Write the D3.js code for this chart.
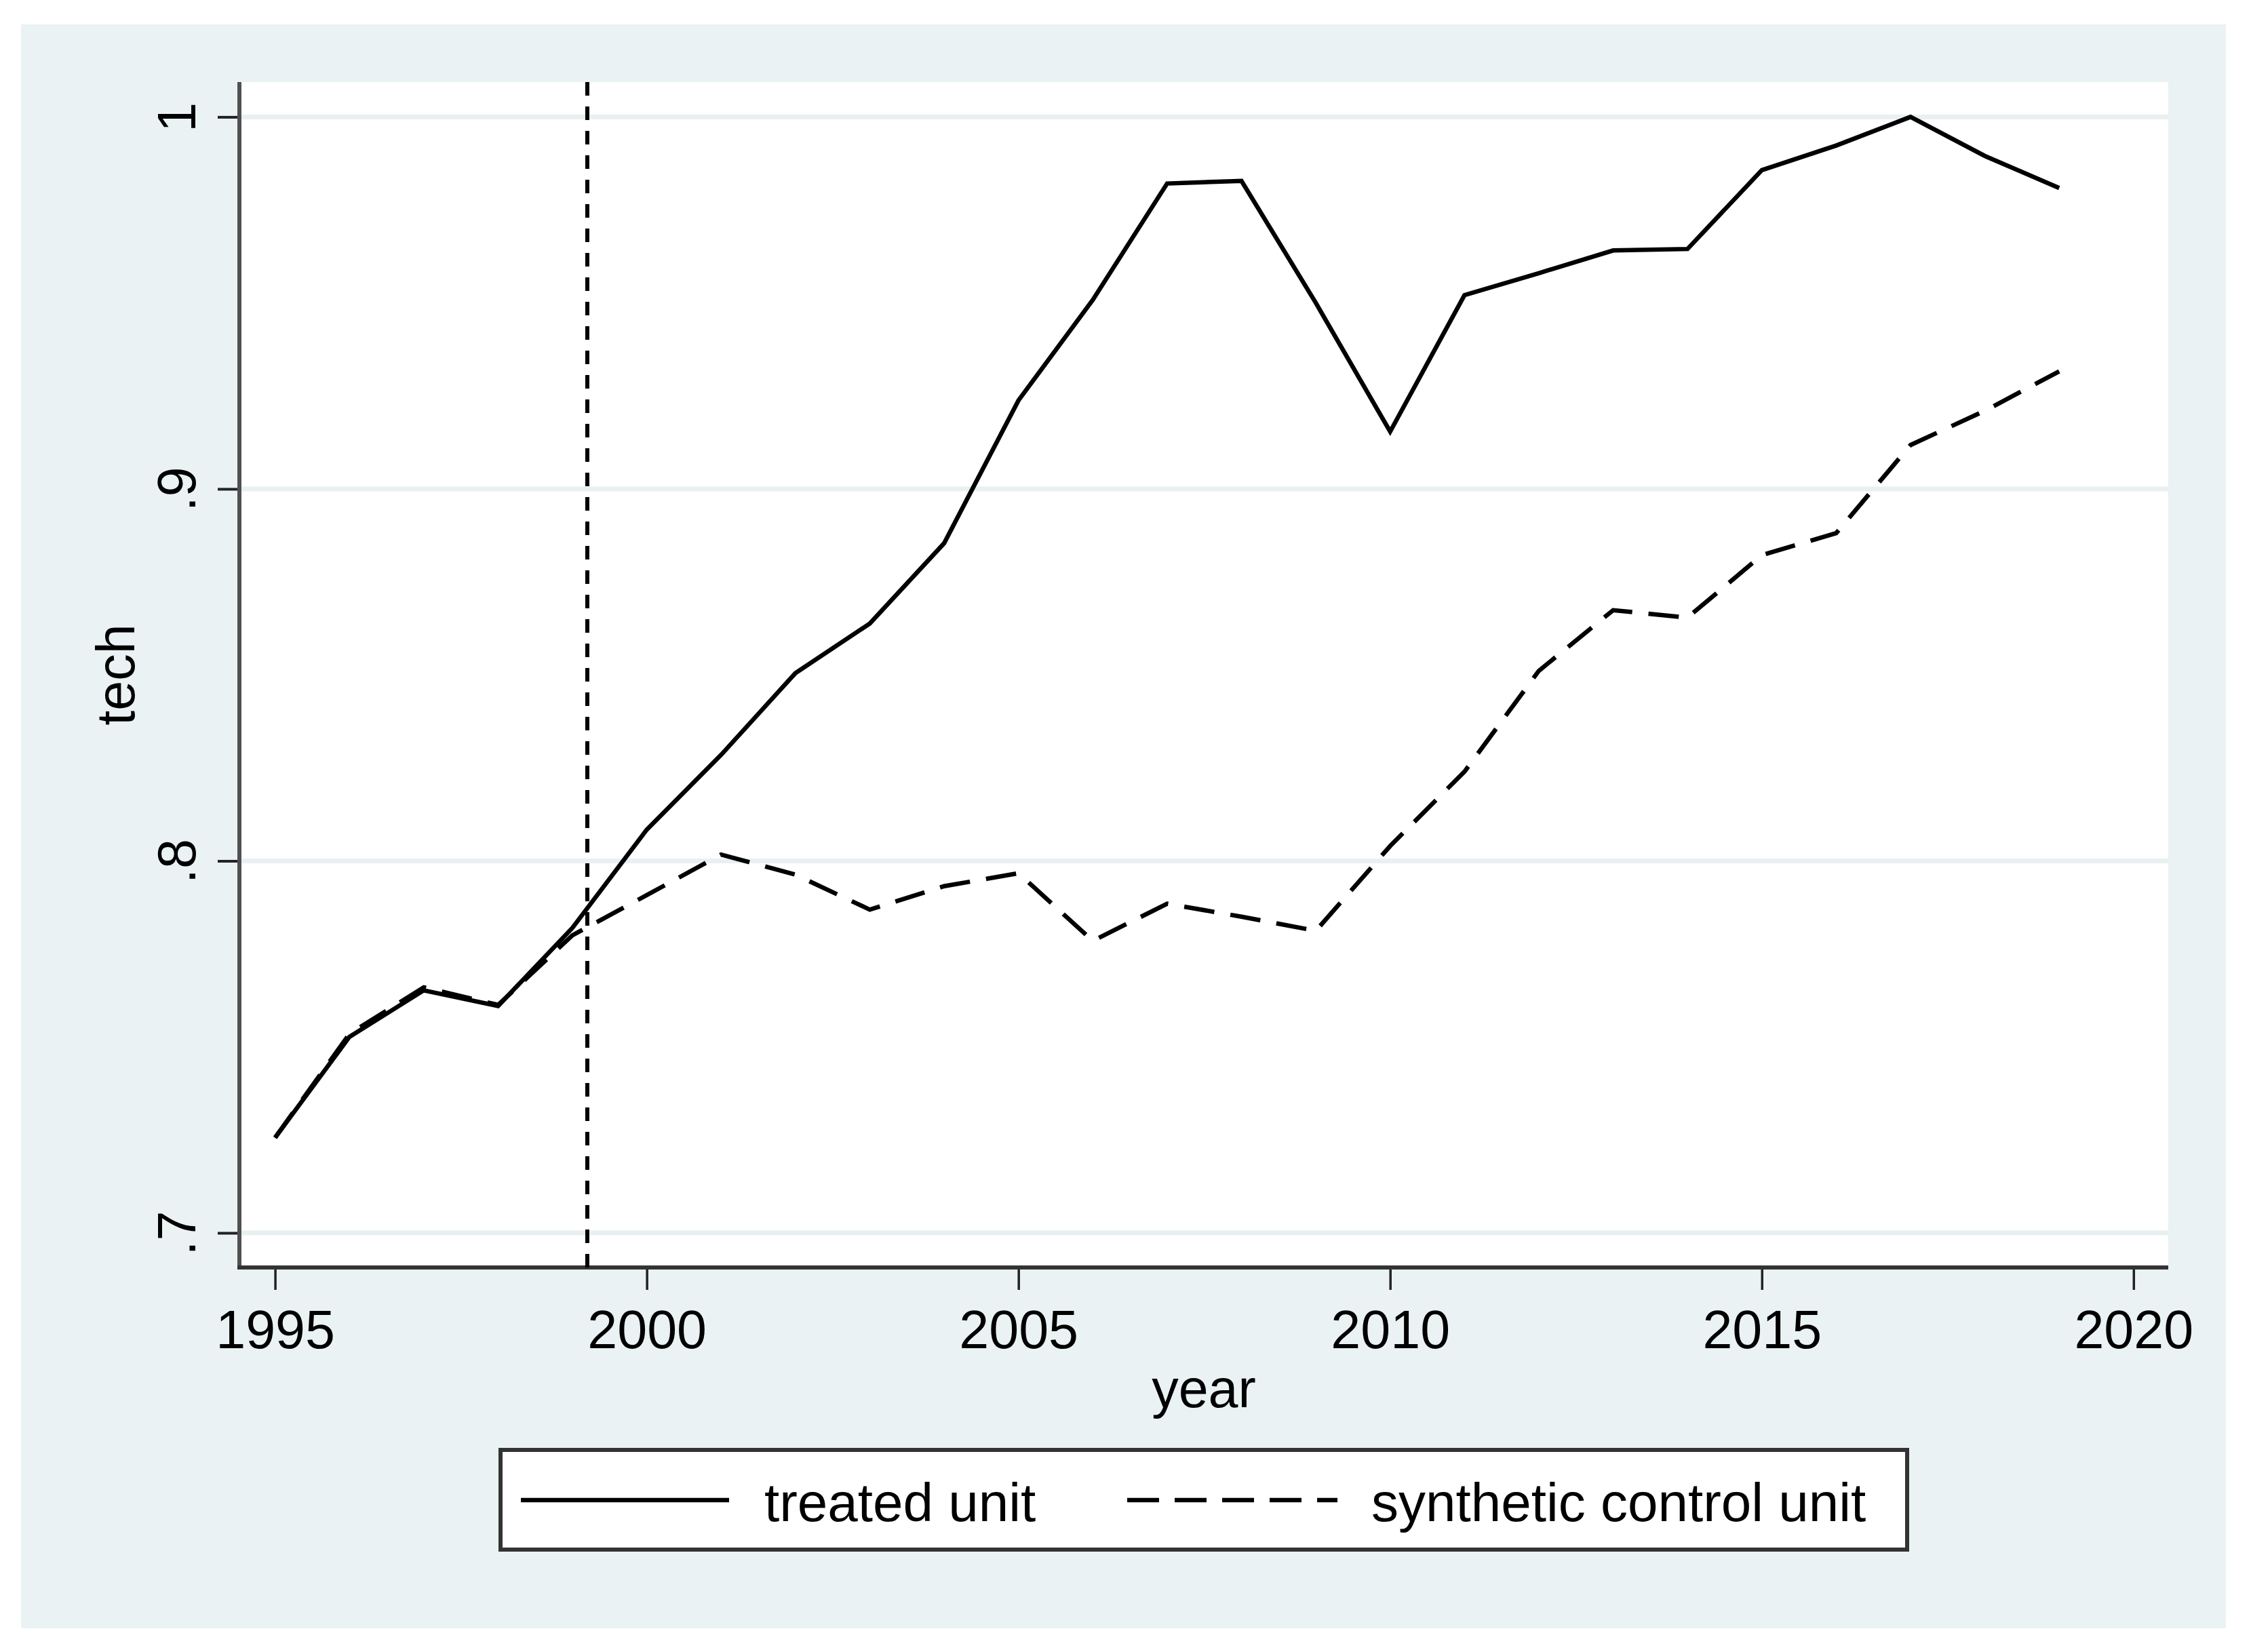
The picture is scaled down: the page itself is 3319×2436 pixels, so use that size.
<!DOCTYPE html>
<meta charset="utf-8">

<script src="https://d3js.org/d3.v7.min.js"></script>

<style type="text/css">

    body {
        margin: 0;
        background: #ffffff;
    }

    text {
        font-family: "Liberation Sans", Arial, sans-serif;
        fill: #000000;
    }

</style>

<body>
</body>

<script>

// data
var years = [1995, 1996, 1997, 1998, 1999, 2000, 2001, 2002, 2003, 2004,
             2005, 2006, 2007, 2008, 2009, 2010, 2011, 2012, 2013, 2014,
             2015, 2016, 2017, 2018, 2019];

var treated = [0.7256, 0.7527, 0.7652, 0.7610, 0.7820, 0.8084, 0.8285, 0.8505, 0.8638, 0.8854,
               0.9238, 0.9508, 0.9821, 0.9828, 0.9500, 0.9154, 0.9521, 0.9580, 0.9641, 0.9645,
               0.9857, 0.9923, 1.0000, 0.9895, 0.9809];

var synthetic = [0.7256, 0.7535, 0.7660, 0.7613, 0.7800, 0.7908, 0.8017, 0.7963, 0.7869, 0.7932,
                 0.7967, 0.7785, 0.7885, 0.7850, 0.7812, 0.8040, 0.8240, 0.8511, 0.8674, 0.8654,
                 0.8822, 0.8881, 0.9118, 0.9210, 0.9316];

var xTicks = [1995, 2000, 2005, 2010, 2015, 2020];
var yTicks = [0.7, 0.8, 0.9, 1];
var yTickLabels = [".7", ".8", ".9", "1"];

var treatYear = 1999.2;

var seriesNames = ["treated unit", "synthetic control unit"];

// layout
var W = 3319, H = 2436;
var bgColor = "#eaf2f3";
var plot = {left: 353, right: 3197, top: 121, bottom: 1869};

var svg = d3.select("body").append("svg")
    .attr("width", W)
    .attr("height", H);

// graph region
svg.append("rect")
    .attr("x", 31).attr("y", 36)
    .attr("width", 3282 - 31).attr("height", 2401 - 36)
    .style("fill", bgColor);

// plot region
svg.append("rect")
    .attr("x", plot.left).attr("y", plot.top)
    .attr("width", plot.right - plot.left).attr("height", plot.bottom - plot.top)
    .style("fill", "#ffffff");

var xScale = d3.scaleLinear()
    .domain([1995, 2020])
    .range([405.6, 3145.8]);

var yScale = d3.scaleLinear()
    .domain([0.7, 1])
    .range([1818, 172.4]);

// gridlines
svg.append("g")
    .selectAll("line")
    .data(yTicks)
    .enter()
    .append("line")
    .attr("x1", plot.left).attr("x2", plot.right)
    .attr("y1", function(d) { return yScale(d); })
    .attr("y2", function(d) { return yScale(d); })
    .style("stroke", "#e8f0f1")
    .style("stroke-width", 7);

// axes
var xAxis = d3.axisBottom(xScale)
    .tickValues(xTicks)
    .tickFormat(d3.format("d"))
    .tickSize(33)
    .tickPadding(30);

var yAxis = d3.axisLeft(yScale)
    .tickValues(yTicks)
    .tickFormat(function(d, i) { return yTickLabels[i]; })
    .tickSize(32)
    .tickPadding(0);

var xAxisGroup = svg.append("g")
    .attr("class", "x axis")
    .attr("transform", "translate(0," + plot.bottom + ")")
    .call(xAxis);

xAxisGroup.select(".domain").remove();
xAxisGroup.selectAll(".tick line")
    .style("stroke", "#222")
    .style("stroke-width", 3.5);
xAxisGroup.selectAll("text")
    .style("font-size", "79px")
    .attr("dy", "0.71em");

var yAxisGroup = svg.append("g")
    .attr("class", "y axis")
    .attr("transform", "translate(" + plot.left + ",0)")
    .call(yAxis);

yAxisGroup.select(".domain").remove();
yAxisGroup.selectAll(".tick line")
    .style("stroke", "#222")
    .style("stroke-width", 4);
yAxisGroup.selectAll("text")
    .style("font-size", "79px")
    .style("text-anchor", "middle")
    .attr("x", 0)
    .attr("dy", 0)
    .attr("transform", "translate(-65,0) rotate(-90)");

// axis lines
svg.append("line")
    .attr("x1", plot.left).attr("x2", plot.left)
    .attr("y1", plot.top).attr("y2", plot.bottom + 3)
    .style("stroke", "#505050")
    .style("stroke-width", 6);

svg.append("line")
    .attr("x1", plot.left - 3).attr("x2", plot.right)
    .attr("y1", plot.bottom).attr("y2", plot.bottom)
    .style("stroke", "#333")
    .style("stroke-width", 6);

// axis titles
svg.append("text")
    .attr("transform", "translate(198," + ((plot.top + plot.bottom) / 2) + ") rotate(-90)")
    .style("text-anchor", "middle")
    .style("font-size", "79px")
    .text("tech");

svg.append("text")
    .attr("x", (plot.left + plot.right) / 2)
    .attr("y", 2075)
    .style("text-anchor", "middle")
    .style("font-size", "79px")
    .text("year");

// intervention line
svg.append("line")
    .attr("x1", xScale(treatYear)).attr("x2", xScale(treatYear))
    .attr("y1", plot.top).attr("y2", plot.bottom)
    .style("stroke", "#000")
    .style("stroke-width", 6)
    .style("stroke-dasharray", "20,16");

// series lines
var line = d3.line()
    .x(function(d) { return xScale(d[0]); })
    .y(function(d) { return yScale(d[1]); });

var treatedPts = years.map(function(y, i) { return [y, treated[i]]; });
var synthPts = years.map(function(y, i) { return [y, synthetic[i]]; });

svg.append("path")
    .datum(synthPts)
    .attr("d", line)
    .style("fill", "none")
    .style("stroke", "#000")
    .style("stroke-width", 6.5)
    .style("stroke-dasharray", "45,24");

svg.append("path")
    .datum(treatedPts)
    .attr("d", line)
    .style("fill", "none")
    .style("stroke", "#000")
    .style("stroke-width", 6.5)
    .style("stroke-linejoin", "miter");

// legend
var legend = svg.append("g");

legend.append("rect")
    .attr("x", 738).attr("y", 2138)
    .attr("width", 2812 - 738).attr("height", 2285 - 2138)
    .style("fill", "#fff")
    .style("stroke", "#333")
    .style("stroke-width", 6);

var legendItems = [
    {name: seriesNames[0], x1: 768, x2: 1075, tx: 1127, dash: null},
    {name: seriesNames[1], x1: 1662, x2: 1972, tx: 2022, dash: "47,23"}
];

legendItems.forEach(function(d) {
    legend.append("line")
        .attr("x1", d.x1).attr("x2", d.x2)
        .attr("y1", 2212).attr("y2", 2212)
        .style("stroke", "#000")
        .style("stroke-width", 6.5)
        .style("stroke-dasharray", d.dash);

    legend.append("text")
        .attr("x", d.tx)
        .attr("y", 2243)
        .style("font-size", "80px")
        .text(d.name);
});

</script>
